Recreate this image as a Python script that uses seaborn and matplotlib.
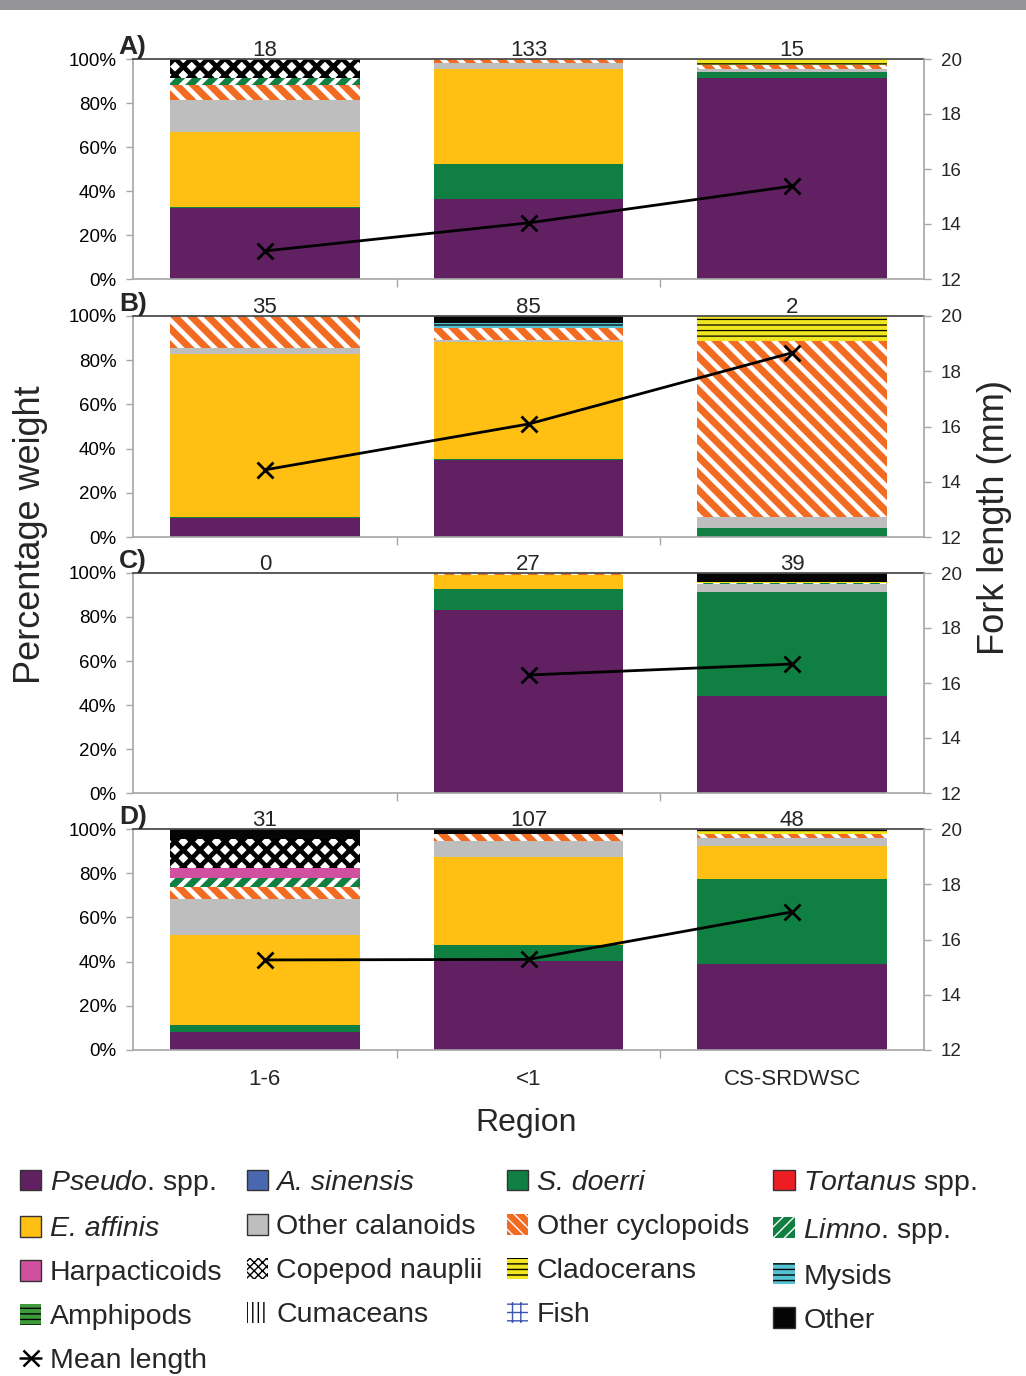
import numpy as np
import matplotlib
matplotlib.use('Agg')
import matplotlib.pyplot as plt
import seaborn as sns
from matplotlib.patches import Patch, Rectangle
from matplotlib.lines import Line2D
from matplotlib.ticker import FuncFormatter

# ---------------- data ----------------
regions = ['1-6', '<1', 'CS-SRDWSC']
categories = ['Pseudo. spp.', 'A. sinensis', 'S. doerri', 'Tortanus spp.',
              'E. affinis', 'Other calanoids', 'Other cyclopoids', 'Limno. spp.',
              'Harpacticoids', 'Copepod nauplii', 'Cladocerans', 'Mysids',
              'Amphipods', 'Cumaceans', 'Fish', 'Other']

# percentage weight, one list per region, values in the order of `categories`
A_1_6 = [32.3, 0, 0.4, 0, 34.0, 14.5, 7.0, 3.0, 0, 8.8, 0, 0, 0, 0, 0, 0]
A_lt1 = [36.4, 0, 16.0, 0, 43.1, 2.5, 2.0, 0, 0, 0, 0, 0, 0, 0, 0, 0]
A_cs = [91.4, 0, 2.5, 0, 0, 1.5, 2.0, 0, 0, 0, 2.6, 0, 0, 0, 0, 0]

B_1_6 = [8.6, 0, 0.4, 0, 73.8, 2.6, 14.2, 0.4, 0, 0, 0, 0, 0, 0, 0, 0]
B_lt1 = [34.8, 0, 0.5, 0, 52.9, 1.0, 5.4, 0, 0, 0, 0, 2.2, 0, 0, 0, 3.2]
B_cs = [0, 0, 4.0, 0, 0, 5.0, 79.7, 0, 0, 0, 11.3, 0, 0, 0, 0, 0]

C_1_6 = [0, 0, 0, 0, 0, 0, 0, 0, 0, 0, 0, 0, 0, 0, 0, 0]
C_lt1 = [83.2, 0, 9.5, 0, 6.4, 0, 0.9, 0, 0, 0, 0, 0, 0, 0, 0, 0]
C_cs = [44.0, 0, 47.4, 0, 0, 3.6, 0, 0.5, 0, 0, 0.5, 0, 0, 0, 0, 4.0]

D_1_6 = [8.1, 0, 3.2, 0, 40.7, 16.3, 5.5, 4.0, 4.6, 13.1, 0, 0, 0, 0, 0, 4.5]
D_lt1 = [40.3, 0, 7.2, 0, 39.8, 7.3, 3.1, 0, 0, 0, 0, 0, 0, 0, 0, 2.3]
D_cs = [38.9, 0, 38.5, 0, 15.0, 3.7, 1.8, 0, 0, 0, 1.3, 0, 0, 0, 0, 0.8]

# mean fork length (mm)
A_mean = [13.02, 14.04, 15.38]
B_mean = [14.43, 16.09, 18.67]
C_mean = [np.nan, 16.29, 16.69]
D_mean = [15.26, 15.28, 17.00]

# sample sizes
A_n = [18, 133, 15]
B_n = [35, 85, 2]
C_n = [0, 27, 39]
D_n = [31, 107, 48]

legend_labels = [r'$\mathit{Pseudo}$. spp.', 'A. sinensis',
                 'S. doerri', r'$\mathit{Tortanus}$ spp.',
                 'E. affinis', 'Other calanoids', 'Other cyclopoids',
                 r'$\mathit{Limno}$. spp.', 'Harpacticoids', 'Copepod nauplii',
                 'Cladocerans', 'Mysids', 'Amphipods', 'Cumaceans', 'Fish', 'Other']
italic_labels = {'A. sinensis', 'S. doerri', 'E. affinis'}

# ---------------- styles ----------------
# facecolor, hatch, hatch colour, hatch linewidth, legend hatch
styles = [
    ('#612062', None, None, 0, None),
    ('#4A68B0', None, None, 0, None),
    ('#0F8041', None, None, 0, None),
    ('#EE1D24', None, None, 0, None),
    ('#FFC013', None, None, 0, None),
    ('#BFBEBF', None, None, 0, None),
    ('#F26B22', '\\\\', 'white', 3.4, '\\\\\\'),
    ('#0F8041', '//', 'white', 3.4, '///'),
    ('#D14F9F', None, None, 0, None),
    ('white', 'xx', 'black', 3.4, 'xxxx'),
    ('#F2E620', '---', 'black', 0.9, '---'),
    ('#55C3D3', '---', 'black', 0.9, '---'),
    ('#3E9B3A', '---', 'black', 0.9, '---'),
    ('white', '|||', 'black', 0.9, '|||'),
    ('white', '++', '#3A55B0', 1.5, '++'),
    ('#050505', None, None, 0, None),
]

sns.set_theme(style='white')
plt.rcParams['font.family'] = ['Liberation Sans', 'DejaVu Sans']
plt.rcParams['mathtext.fontset'] = 'custom'
plt.rcParams['mathtext.rm'] = 'Liberation Sans'
plt.rcParams['mathtext.it'] = 'Liberation Sans:italic'
plt.rcParams['mathtext.bf'] = 'Liberation Sans:bold'

GRAY = '#A6A6A6'

fig = plt.figure(figsize=(10.26, 13.76), dpi=100)
fig.add_artist(Rectangle((0, 1 - 10 / 1376), 1, 10 / 1376, transform=fig.transFigure,
                         facecolor='#959499', edgecolor='none'))

W, H = 1026, 1376
left = 133 / W
width = (924 - 133) / W
panel_px = [(59, 279), (316, 537), (573, 793), (829, 1050)]

panels = [
    ('A)', [A_1_6, A_lt1, A_cs], A_mean, A_n),
    ('B)', [B_1_6, B_lt1, B_cs], B_mean, B_n),
    ('C)', [C_1_6, C_lt1, C_cs], C_mean, C_n),
    ('D)', [D_1_6, D_lt1, D_cs], D_mean, D_n),
]


def style_bars(ax, n0, hlw):
    for p in ax.patches[n0:]:
        if hlw and hasattr(p, 'set_hatch_linewidth'):
            p.set_hatch_linewidth(hlw)


for idx, (letter, vals_by_region, means, counts) in enumerate(panels):
    top_px, bot_px = panel_px[idx]
    ax = fig.add_axes([left, 1 - bot_px / H, width, (bot_px - top_px) / H])
    vals = np.array(vals_by_region, dtype=float).T  # (categories, regions)
    cum = np.cumsum(vals, axis=0)
    for k in range(len(categories) - 1, -1, -1):
        if vals[k].sum() == 0:
            continue
        fc, hatch, hc, hlw, _ = styles[k]
        n0 = len(ax.patches)
        with plt.rc_context({'hatch.linewidth': hlw if hlw else 1.0}):
            sns.barplot(x=regions, y=cum[k], order=regions, color=fc, saturation=1,
                        width=0.72, errorbar=None, hatch=hatch,
                        edgecolor=hc if hc else fc, linewidth=0, ax=ax)
        style_bars(ax, n0, hlw)

    ax.set_xlim(-0.5, 2.5)
    ax.set_ylim(0, 100)
    ax.set_yticks([0, 20, 40, 60, 80, 100])
    ax.yaxis.set_major_formatter(FuncFormatter(lambda v, p: f'{v:.0f}%'))
    ax.tick_params(axis='y', which='major', left=True, direction='out', length=5,
                   width=1, color=GRAY, labelsize=13.5, pad=7, labelcolor='black')
    ax.set_xticks([0, 1, 2])
    ax.set_xticks([0.5, 1.5], minor=True)
    ax.tick_params(axis='x', which='major', bottom=False, length=0, pad=14,
                   labelsize=16, labelbottom=(idx == 3))
    ax.tick_params(axis='x', which='minor', bottom=True, direction='out', length=6,
                   width=1, color=GRAY)
    if idx == 3:
        ax.set_xticklabels(regions)
    ax.set_xlabel('')
    ax.set_ylabel('')
    ax.spines['top'].set_color('#4D4D4D')
    ax.spines['top'].set_linewidth(1.3)
    for s in ('bottom', 'left'):
        ax.spines[s].set_color(GRAY)
        ax.spines[s].set_linewidth(1.2)
    ax.spines['right'].set_visible(False)
    ax.set_facecolor('none')

    for i, c in enumerate(counts):
        ax.text(i, 99.3, str(c), ha='center', va='bottom', fontsize=16)
    ax.text(-0.018, 1.0, letter, transform=ax.transAxes, ha='left', va='bottom',
            fontsize=19, fontweight='bold')

    ax2 = ax.twinx()
    m = np.array(means, dtype=float)
    mask = ~np.isnan(m)
    sns.lineplot(x=np.arange(len(regions))[mask], y=m[mask], ax=ax2, color='black',
                 linewidth=2, marker='x', markersize=11, markeredgewidth=2,
                 markeredgecolor='black')
    ax2.set_ylim(12, 20)
    ax2.set_yticks([12, 14, 16, 18, 20])
    ax2.set_xlim(-0.5, 2.5)
    ax2.tick_params(axis='y', right=True, direction='out', length=5, width=1,
                    color=GRAY, labelsize=13.5, pad=7)
    ax2.set_ylabel('')
    ax2.set_xlabel('')
    for s in ('top', 'bottom', 'left'):
        ax2.spines[s].set_visible(False)
    ax2.spines['right'].set_color(GRAY)
    ax2.spines['right'].set_linewidth(1.2)

fig.text(31 / W, 1 - 535 / H, 'Percentage weight', rotation=90, ha='center',
         va='center', fontsize=26)
fig.text(995 / W, 1 - 517 / H, 'Fork length (mm)', rotation=90, ha='center',
         va='center', fontsize=26)
fig.text(526 / W, 1 - 1123 / H, 'Region', ha='center', va='center', fontsize=23)

# ---------------- legend ----------------
handles = []
for k, lab in enumerate(legend_labels):
    fc, hatch, hc, hlw, lhatch = styles[k]
    lw_leg = hlw * 0.55 if hlw else 1.0
    with plt.rc_context({'hatch.linewidth': lw_leg}):
        if lhatch:
            h = Patch(facecolor=fc, hatch=lhatch, edgecolor=hc, linewidth=0)
        else:
            h = Patch(facecolor=fc, edgecolor='#333333', linewidth=1)
    if hlw and hasattr(h, 'set_hatch_linewidth'):
        h.set_hatch_linewidth(lw_leg)
    handles.append(h)
line_handle = Line2D([], [], color='black', linewidth=1.8, marker='x',
                     markersize=11, markeredgewidth=1.8)

order_rows = [[0, 1, 2, 3], [4, 5, 6, 7], [8, 9, 10, 11], [12, 13, 14, 15]]
col_handles, col_labels = [], []
for col in range(4):
    for row in range(4):
        k = order_rows[row][col]
        col_handles.append(handles[k])
        col_labels.append(legend_labels[k])
    if col == 0:
        col_handles.append(line_handle)
        col_labels.append('Mean length')

leg = fig.legend(col_handles, col_labels, loc='upper left',
                 bbox_to_anchor=(20 / W, 1 - 1168 / H), ncol=4, frameon=False,
                 fontsize=20.5, handlelength=0.75, handleheight=0.75,
                 handletextpad=0.3, columnspacing=0.85, labelspacing=0.62,
                 borderaxespad=0, borderpad=0)
for t in leg.get_texts():
    if t.get_text() in italic_labels:
        t.set_style('italic')

fig.savefig('out.png', dpi=100)
